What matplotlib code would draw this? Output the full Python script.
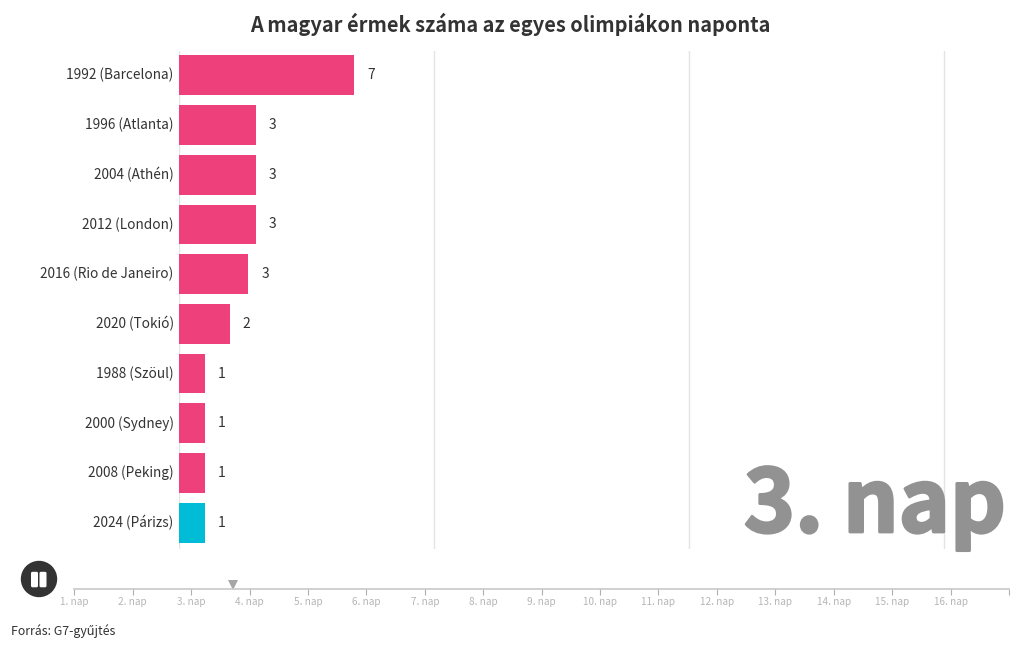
import numpy as np
import matplotlib
matplotlib.use("Agg")
import matplotlib.pyplot as plt
import matplotlib.patheffects as pe
from matplotlib.patches import Circle, FancyBboxPatch

plt.rcParams['font.family'] = ['Noto Sans CJK SC', 'DejaVu Sans']

######### DATA #########
games = ['1992 (Barcelona)', '1996 (Atlanta)', '2004 (Athén)', '2012 (London)',
         '2016 (Rio de Janeiro)', '2020 (Tokió)', '1988 (Szöul)', '2000 (Sydney)',
         '2008 (Peking)', '2024 (Párizs)']
# bars are caught mid animation, so the drawn length differs from the label
drawn = [6.86, 2.99, 2.99, 2.99, 2.71, 1.98, 0.99, 0.99, 0.99, 0.99]
shown = [7, 3, 3, 3, 3, 2, 1, 1, 1, 1]
colors = ['#ee417c'] * 9 + ['#00bcd6']
grid_vals = [0, 10, 20, 30]
days = [f'{d}. nap' for d in range(1, 17)]
day_pos = list(range(1, 18))
current_day = 3.71

W, H = 1020, 650
fig = plt.figure(figsize=(W / 100, H / 100), dpi=100, facecolor='white')

def px_axes(left, top, right, bottom):
    return fig.add_axes([left / W, 1 - bottom / H, (right - left) / W, (bottom - top) / H])

######### BARS #########
ax = px_axes(179.3, 50.5, 1009, 548.5)
ax.set_xlim(0, (1009 - 179.3) / 25.5)
ax.set_ylim(9.52, -0.5)
for g in grid_vals:
    ax.axvline(g, color='#e4e4e4', lw=1, zorder=0)
y = np.arange(len(games))
ax.barh(y, drawn, height=0.8, color=colors, zorder=2)
for i in y:
    ax.text(drawn[i] + 0.5, i, str(shown[i]), va='center', ha='left', fontsize=10, color='#333333')
    ax.text(-0.22, i, games[i], va='center', ha='right', fontsize=9.8, color='#333333')
ax.set_xticks([])
ax.set_yticks([])
for s in ax.spines.values():
    s.set_visible(False)

######### TIMELINE #########
tl = px_axes(74.3, 570, 1009, 589)
tl.set_xlim(1, 17)
tl.set_ylim(0, 1)
tl.patch.set_alpha(0)
for s in ['top', 'left', 'right']:
    tl.spines[s].set_visible(False)
tl.spines['bottom'].set_color('#c8c8c8')
tl.spines['bottom'].set_linewidth(1.2)
tl.set_yticks([])
tl.set_xticks(day_pos)
tl.set_xticklabels(days + [''], fontsize=7.2, color='#b5b5b5')
tl.tick_params(axis='x', length=4, width=0.8, color='#b0b0b0', pad=2)
tl.plot([current_day], [0.22], marker='v', ms=7, color='#a6a6a6', mew=0, clip_on=False)

######### OVERLAY #########
ov = fig.add_axes([0, 0, 1, 1])
ov.set_xlim(0, W)
ov.set_ylim(H, 0)
ov.axis('off')
ov.patch.set_alpha(0)
ov.add_patch(Circle((39, 579), 17.5, color='#333333'))
for bx in (32, 40.5):
    ov.add_patch(FancyBboxPatch((bx, 572.8), 5, 13.5, boxstyle='round,pad=1,rounding_size=1.5',
                                fc='white', ec='none'))
ov.text(510, 24, 'A magyar érmek száma az egyes olimpiákon naponta', ha='center', va='center',
        fontsize=14.4, fontweight='bold', color='#333333')
ov.text(11, 631, 'Forrás: G7-gyűjtés', ha='left', va='center', fontsize=8.9, color='#333333')
# no black weight installed, a thin stroke thickens the bold
ov.text(1006, 532, '3. nap', ha='right', va='baseline', fontsize=62.5, fontweight='bold',
        color='#929292', path_effects=[pe.withStroke(linewidth=2, foreground='#929292')])

fig.savefig('out.png', dpi=100)
